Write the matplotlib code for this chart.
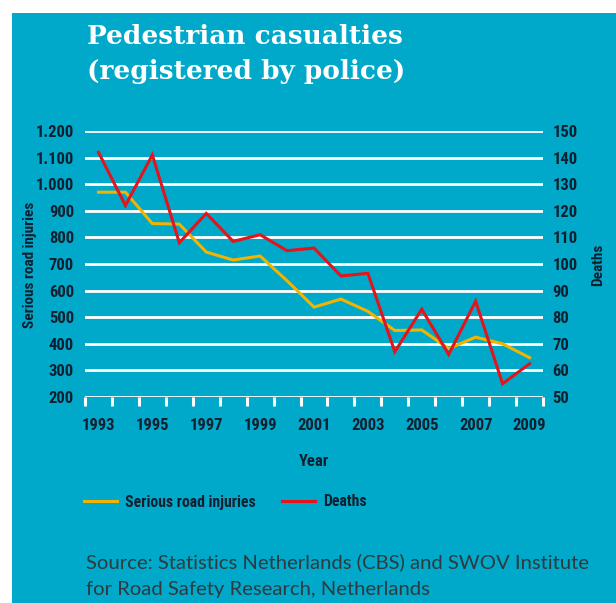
import matplotlib
matplotlib.use("Agg")
import matplotlib.pyplot as plt
from matplotlib.patches import Rectangle
from matplotlib.lines import Line2D

years = list(range(1993, 2010))
injuries = [970, 970, 852, 850, 745, 715, 730, 637, 538, 568, 522, 450, 452, 382, 425, 400, 348]
deaths = [142, 122, 141, 108, 119, 108.5, 111, 105, 106, 95.5, 96.5, 67, 83, 66, 86, 55, 62.5]

left_ticks = [200, 300, 400, 500, 600, 700, 800, 900, 1000, 1100, 1200]
left_labels = ["200", "300", "400", "500", "600", "700", "800", "900", "1.000", "1.100", "1.200"]
right_ticks = [50, 60, 70, 80, 90, 100, 110, 120, 130, 140, 150]
year_labels = ["1993", "1995", "1997", "1999", "2001", "2003", "2005", "2007", "2009"]

BLUE = "#00a9c9"
YELLOW = "#f2b400"
RED = "#e3141b"
INK = "#102030"
COND = ["Liberation Sans Narrow", "Roboto Condensed", "DejaVu Sans"]
bold_txt = dict(fontfamily=COND, fontstretch="condensed", fontweight="bold", color=INK)

W, H = 616, 603
fig = plt.figure(figsize=(W / 100, H / 100), dpi=100)
fig.patch.set_facecolor(BLUE)
# white strips along the top and left edge
fig.patches.append(Rectangle((0, 1 - 13 / H), 1, 13 / H, transform=fig.transFigure,
                             facecolor="white", edgecolor="none"))
fig.patches.append(Rectangle((0, 0), 12 / W, 1, transform=fig.transFigure,
                             facecolor="white", edgecolor="none"))

# axes box in pixels: x 85..543, y 131..397
ax = fig.add_axes([85 / W, 1 - 397 / H, (543 - 85) / W, (397 - 131) / H])
ax.set_facecolor("none")
ax.set_xlim(1992.5, 2009.5)
ax.set_ylim(200, 1200)
for s in ax.spines.values():
    s.set_visible(False)

for t in left_ticks:
    ax.axhline(t, color="white", lw=2.0, zorder=1)

# year boundary ticks hanging below the base line
bounds = [y + 0.5 for y in range(1992, 2010)]
for b in bounds:
    ax.plot([b, b], [-0.034, 0], transform=ax.get_xaxis_transform(), color="white",
            lw=2.2, clip_on=False, zorder=2, solid_capstyle="butt")

ax.plot(years, injuries, color=YELLOW, lw=2.2, zorder=3, solid_joinstyle="miter")

ax.set_yticks(left_ticks)
ax.set_yticklabels(left_labels)
ax.tick_params(axis="y", length=0, pad=8)
ax.set_xticks(list(range(1993, 2010, 2)))
ax.set_xticklabels(year_labels)
ax.tick_params(axis="x", length=0, pad=15)
for lab in ax.get_xticklabels() + ax.get_yticklabels():
    lab.set(fontsize=12, **bold_txt)

ax2 = ax.twinx()
ax2.set_ylim(50, 150)
for s in ax2.spines.values():
    s.set_visible(False)
ax2.plot(years, deaths, color=RED, lw=2.2, zorder=4, solid_joinstyle="miter")
ax2.set_yticks(right_ticks)
ax2.tick_params(axis="y", length=0, pad=7)
for lab in ax2.get_yticklabels():
    lab.set(fontsize=12, **bold_txt)

# axis titles placed in pixels
fig.text(30 / W, 1 - 265 / H, "Serious road injuries", rotation=90, ha="center", va="center",
         fontsize=11, **bold_txt)
fig.text(598 / W, 1 - 265 / H, "Deaths", rotation=90, ha="center", va="center",
         fontsize=11, **bold_txt)
fig.text(314 / W, 1 - 461 / H, "Year", ha="center", va="center", fontsize=12, **bold_txt)

# title
for txt, ypx in [("Pedestrian casualties", 37), ("(registered by police)", 72)]:
    fig.text(87 / W, 1 - ypx / H, txt, fontfamily="DejaVu Serif", fontweight="bold",
             fontsize=19, color="white", va="center", ha="left")

# legend
handles = [Line2D([], [], color=YELLOW, lw=2.2), Line2D([], [], color=RED, lw=2.2)]
leg = fig.legend(handles, ["Serious road injuries", "Deaths"], loc="center left",
                 bbox_to_anchor=(70 / W, 1 - 502 / H), ncol=2, frameon=False,
                 handlelength=2.1, handletextpad=0.5, columnspacing=1.7,
                 prop={"family": COND, "stretch": "condensed", "weight": "bold", "size": 11.3})
for t in leg.get_texts():
    t.set_color(INK)

# source
fig.text(86 / W, 1 - 562 / H, "Source: Statistics Netherlands (CBS) and SWOV Institute",
         fontfamily="Lato", fontsize=14.6, color="#2e3a40", va="center", ha="left")
fig.text(86 / W, 1 - 590 / H, "for Road Safety Research, Netherlands",
         fontfamily="Lato", fontsize=14.6, color="#2e3a40", va="center", ha="left")

fig.savefig("out.png", dpi=100)
